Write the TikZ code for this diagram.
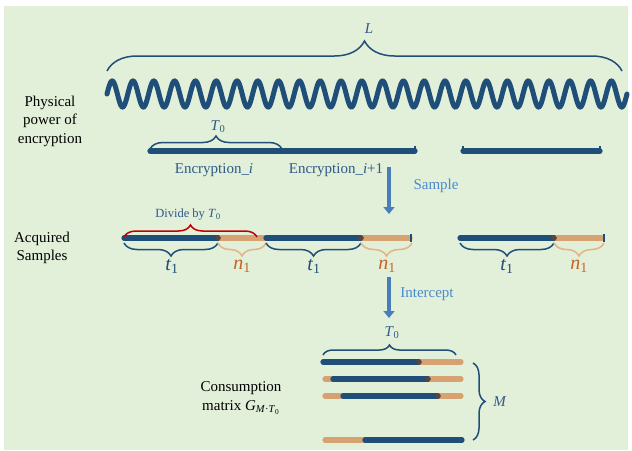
\documentclass[tikz,border=0pt]{standalone}
\usepackage{fontspec}
\setmainfont{Liberation Serif}
\usetikzlibrary{decorations.pathreplacing,arrows.meta}

\definecolor{panelgreen}{HTML}{E2EFD9}
\definecolor{barblue}{HTML}{1F4E79}
\definecolor{inkblue}{HTML}{2E5A87}
\definecolor{tanbar}{HTML}{D6A271}
\definecolor{tanbrace}{HTML}{E3B486}
\definecolor{ntext}{HTML}{C6641E}
\definecolor{flowblue}{HTML}{4A7EBB}
\definecolor{flowtext}{HTML}{4A8BCF}
\definecolor{joint}{HTML}{5E4436}
\definecolor{divred}{HTML}{C00000}

% italic symbol with an upright subscript, set in the text font
\newcommand{\symsub}[2]{\textit{#1}\textsubscript{#2}}

\begin{document}
\begin{tikzpicture}[x=1pt,y=-1pt,
  bluebar/.style={draw=barblue,line width=5.2pt,line cap=round},
  orangebar/.style={draw=tanbar,line width=5.2pt,line cap=round},
  endtick/.style={draw=barblue,line width=1.6pt},
  bracepath/.style={decorate,decoration={brace,amplitude=#1},line width=1.5pt},
  bluebrace/.style={bracepath=#1,draw=barblue},
  tanbrace/.style={bracepath=#1,draw=tanbrace},
  redbrace/.style={bracepath=#1,draw=divred},
  jointdot/.style={fill=joint},
  flowarrow/.style={draw=flowblue,line width=4.5pt,-{Triangle[width=11pt,length=7pt]}},
  sidelabel/.style={font=\fontsize{15}{18.5}\selectfont,align=center,text=black},
  inklabel/.style={font=\fontsize{15}{18}\selectfont,text=inkblue},
  flowlabel/.style={font=\fontsize{15}{18}\selectfont,text=flowtext},
  tlabel/.style={font=\fontsize{20}{22}\selectfont,text=barblue},
  nlabel/.style={font=\fontsize{20}{22}\selectfont,text=ntext},
]
\useasboundingbox (0,0) rectangle (632,450);
\fill[panelgreen] (4,6) rectangle (628,450);

% ---------- physical power trace ----------
\draw[bluebrace=30] (107,71) -- (622,71);
\node[inklabel] (Llab) at (369,29) {\textit{L}};
\draw[draw=barblue,line width=5pt,line cap=round]
  plot[domain=107:627,samples=700,smooth] (\x,{94-13*sin(((\x-107)/20.8)*360)});
\node[sidelabel] (physlab) at (50,121) {Physical\\power of\\encryption};

% encryption windows
\draw[bluebrace=13] (150,149) -- (282,149);
\node[inklabel] (T0top) at (218,127) {\symsub{T}{0}};
\draw[bluebar] (150,151) -- (415,151);
\draw[endtick] (415,146) -- (415,152);
\draw[bluebar] (463,151) -- (600,151);
\draw[endtick] (463,146) -- (463,152);
\draw[endtick] (600,146) -- (600,152);
\node[inklabel] (enci) at (214,170) {Encryption\_\textit{i}};
\node[inklabel] (encii) at (336,170) {Encryption\_\textit{i}+1};

% ---------- sampling step ----------
\coordinate (sampleTop) at (389,167);
\coordinate (sampleTip) at (389,214);
\draw[flowarrow] (sampleTop) -- (sampleTip);
\node[flowlabel] (samplelab) at (436,186) {Sample};

% acquired samples row
\draw[orangebar] (218,238) -- (266,238);
\draw[orangebar] (361,238) -- (410,238);
\draw[orangebar] (554,238) -- (602,238);
\draw[bluebar] (124,238) -- (218,238);
\draw[bluebar] (266,238) -- (361,238);
\draw[bluebar] (460,238) -- (554,238);
\draw[endtick] (411,234) -- (411,242);
\draw[endtick] (604,234) -- (604,242);
\fill[jointdot] (218,238) circle (2.6);
\fill[jointdot] (361,238) circle (2.6);
\fill[jointdot] (554,238) circle (2.6);
\node[sidelabel] (acqlab) at (42,248) {Acquired\\Samples};

\draw[redbrace=12] (124,237) -- (257,237);
\node[font=\fontsize{12.5}{15}\selectfont,text=inkblue] (dividelab) at (188,215) {Divide by \symsub{T}{0}};

\draw[bluebrace=13] (218,243) -- (124,243);
\draw[tanbrace=13] (266,243) -- (218,243);
\draw[bluebrace=13] (361,243) -- (266,243);
\draw[tanbrace=13] (412,243) -- (361,243);
\draw[bluebrace=13] (554,243) -- (460,243);
\draw[tanbrace=13] (604,243) -- (554,243);
\node[tlabel] (t1a) at (172,266) {\symsub{t}{1}};
\node[nlabel] (n1a) at (242,266) {\symsub{n}{1}};
\node[tlabel] (t1b) at (314,266) {\symsub{t}{1}};
\node[nlabel] (n1b) at (387,266) {\symsub{n}{1}};
\node[tlabel] (t1c) at (507,266) {\symsub{t}{1}};
\node[nlabel] (n1c) at (579,266) {\symsub{n}{1}};

% ---------- interception step ----------
\coordinate (interTop) at (389,277);
\coordinate (interTip) at (389,318);
\draw[flowarrow] (interTop) -- (interTip);
\node[flowlabel] (interlab) at (427,294) {Intercept};

% consumption matrix
\draw[bluebrace=10] (323,355) -- (456,355);
\node[inklabel] (T0mat) at (392,333) {\symsub{T}{0}};
\draw[orangebar] (325,362) -- (461,362);
\draw[bluebar] (323,362) -- (419,362);
\fill[jointdot] (419,362) circle (2.6);
\draw[orangebar] (325,379) -- (461,379);
\draw[bluebar] (333,379) -- (428,379);
\fill[jointdot] (428,379) circle (2.6);
\draw[orangebar] (325,396) -- (461,396);
\draw[bluebar] (343,396) -- (438,396);
\fill[jointdot] (438,396) circle (2.6);
\draw[orangebar] (325,440) -- (461,440);
\draw[bluebar] (365,440) -- (462,440);
\draw[bluebrace=12] (473,363) -- (473,440);
\node[inklabel] (Mlab) at (500,402) {\textit{M}};
\node[sidelabel] (matlab) at (241,398) {Consumption\\matrix \textit{G}\textsubscript{\textit{M}·\textit{T}\textsubscript{0}}};
\end{tikzpicture}
\end{document}
